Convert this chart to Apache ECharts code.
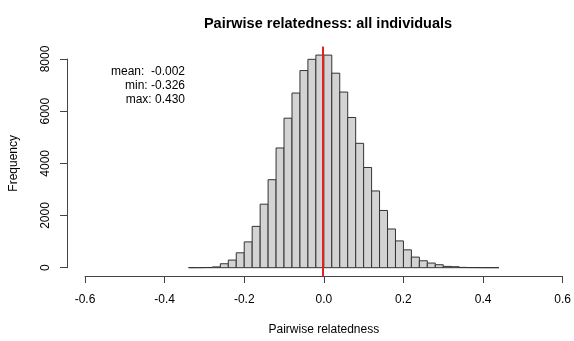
<!DOCTYPE html>
<html>
<head>
<meta charset="utf-8">
<script src="https://cdn.jsdelivr.net/npm/echarts@6/dist/echarts.min.js"></script>
<style>html,body{margin:0;padding:0;background:#fff}#c{width:574px;height:341px}</style>
</head>
<body>
<div id="c"></div>
<script>
// Histogram bins (left edges), bin width, and counts
const binLefts = [-0.34,-0.32,-0.30,-0.28,-0.26,-0.24,-0.22,-0.20,-0.18,-0.16,-0.14,-0.12,-0.10,-0.08,-0.06,-0.04,-0.02,
  0.00,0.02,0.04,0.06,0.08,0.10,0.12,0.14,0.16,0.18,0.20,0.22,0.24,0.26,0.28,0.30,0.32,0.34,0.36,0.38,0.40,0.42];
const binWidth = 0.02;
const counts = [2,4,8,30,152,292,571,989,1585,2435,3373,4590,5731,6695,7557,7988,8150,
  8150,7456,6733,5757,4768,3842,2942,2194,1484,1027,685,406,266,178,114,50,38,12,6,4,2,1];
const xTicks = [-0.6,-0.4,-0.2,0.0,0.2,0.4,0.6];
const yTicks = [0,2000,4000,6000,8000];
const stats = {mean: -0.002, min: -0.326, max: 0.430};
const statLines = ['mean:  -0.002', 'min: -0.326', 'max: 0.430'];

const FONT = '"Liberation Sans", Arial, Helvetica, sans-serif';
const maxCount = Math.max(...counts);
const yLo = -0.04 * maxCount, yHi = maxCount * 1.04;

const chart = echarts.init(document.getElementById('c'), null, {renderer: 'canvas'});
chart.setOption({
  animation: false,
  backgroundColor: '#fff',
  title: {
    text: 'Pairwise relatedness: all individuals',
    left: 323, top: 11, textAlign: 'center',
    textStyle: {fontFamily: FONT, fontSize: 14.5, fontWeight: 'bold', color: '#000'}
  },
  grid: {left: 85, right: 11, top: 59, bottom: 71.7},
  xAxis: {
    type: 'value', min: xTicks[0], max: xTicks[xTicks.length-1], interval: 0.2,
    offset: 8.3,
    name: 'Pairwise relatedness', nameLocation: 'middle', nameGap: 48,
    nameTextStyle: {fontFamily: FONT, fontSize: 12, color: '#000'},
    axisLine: {show: true, onZero: false, lineStyle: {color: '#444', width: 1}},
    axisTick: {show: true, length: 7, lineStyle: {color: '#444'}},
    axisLabel: {fontFamily: FONT, fontSize: 12, color: '#000', margin: 18,
      formatter: v => v.toFixed(1), showMinLabel: true, showMaxLabel: true},
    splitLine: {show: false}
  },
  yAxis: {
    type: 'value', min: yTicks[0], max: yTicks[yTicks.length-1], interval: 2000,
    offset: 18,
    name: 'Frequency', nameLocation: 'middle', nameGap: 47, nameRotate: 90,
    nameTextStyle: {fontFamily: FONT, fontSize: 12, color: '#000'},
    axisLine: {show: true, onZero: false, lineStyle: {color: '#444', width: 1}},
    axisTick: {show: true, length: 7, lineStyle: {color: '#444'}},
    axisLabel: {fontFamily: FONT, fontSize: 12, color: '#000', rotate: 90, margin: 15,
      formatter: v => String(v), showMinLabel: true, showMaxLabel: true},
    splitLine: {show: false}
  },
  graphic: statLines.map((t, i) => ({
    type: 'text', right: 574 - 185, top: 66 + i * 14,
    style: {text: t, font: '12px ' + FONT, fill: '#000', textAlign: 'right'}
  })),
  series: [
    {
      type: 'custom',
      clip: false,
      data: binLefts.map((x, i) => [x, x + binWidth, counts[i]]),
      renderItem: function (params, api) {
        const p0 = api.coord([api.value(0), 0]);
        const p1 = api.coord([api.value(1), api.value(2)]);
        return {
          type: 'rect',
          shape: {x: p0[0], y: p1[1], width: p1[0] - p0[0], height: p0[1] - p1[1]},
          style: {fill: '#d3d3d3', stroke: '#333', lineWidth: 1}
        };
      },
      z: 2
    },
    {
      type: 'line',
      clip: false,
      symbol: 'none',
      data: [[stats.mean, yLo], [stats.mean, yHi]],
      lineStyle: {color: '#e0201c', width: 2},
      z: 5
    }
  ]
});
</script>
</body>
</html>
